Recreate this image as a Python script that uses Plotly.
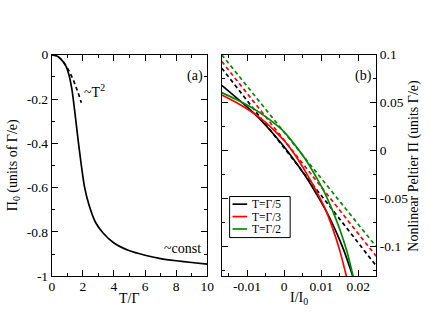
import plotly.graph_objects as go

# ---------------- data: panel (a) ----------------
T_solid = [0, 0.3, 0.6, 0.9, 1.1, 1.3, 1.5, 1.7, 1.9, 2.1, 2.4, 2.8, 3.3, 4.0, 5.0, 6.0, 7.0, 8.0, 9.0, 10.0]
Pi0_solid = [0, -0.005, -0.021, -0.05, -0.09, -0.16, -0.27, -0.39, -0.50, -0.595, -0.68, -0.755,
             -0.805, -0.85, -0.885, -0.905, -0.92, -0.93, -0.938, -0.945]
T_sq = [0, 0.4, 0.8, 1.2, 1.6, 1.9]
Pi0_sq = [0, -0.01, -0.038, -0.086, -0.154, -0.217]

# ---------------- data: panel (b) ----------------
I_black = [-0.0168, -0.014, -0.011, -0.008, -0.005, -0.002, 0.0, 0.002, 0.004, 0.006, 0.008,
           0.010, 0.012, 0.014, 0.016, 0.018, 0.0185]
Pi_black = [0.068, 0.059, 0.049, 0.0385, 0.0265, 0.0135, 0.0040, -0.0062, -0.0168, -0.028, -0.0405,
            -0.0537, -0.068, -0.0845, -0.103, -0.125, -0.131]
I_red = [-0.0168, -0.013, -0.009, -0.005, -0.002, 0.0, 0.003, 0.006, 0.009, 0.011, 0.013, 0.015, 0.0168]
Pi_red = [0.058, 0.0505, 0.041, 0.0295, 0.0185, 0.0105, -0.0048, -0.0235, -0.0445, -0.060, -0.080,
          -0.104, -0.131]
I_green = [-0.0168, -0.013, -0.009, -0.005, -0.002, 0.0, 0.003, 0.006, 0.009, 0.011, 0.013, 0.015,
           0.017, 0.0186]
Pi_green = [0.0605, 0.0535, 0.0455, 0.0355, 0.0265, 0.0195, 0.0055, -0.0105, -0.030, -0.0445, -0.062,
            -0.082, -0.106, -0.131]
I_lin = [-0.0168, 0.0248]
Pi_lin_black = [0.086, -0.12]
Pi_lin_red = [0.093, -0.11]
Pi_lin_green = [0.1, -0.1]

labels = ["T=Γ/5", "T=Γ/3", "T=Γ/2"]
colors = ["black", "#ff0000", "#008c00"]

ax_x_ticks = [0, 2, 4, 6, 8, 10]
ax_y_ticks = [0, -0.2, -0.4, -0.6, -0.8, -1]
ax_y_text = ["0", "-0.2", "-0.4", "-0.6", "-0.8", "-1"]
bx_ticks = [-0.01, 0, 0.01, 0.02]
bx_text = ["-0.01", "0", "0.01", "0.02"]
by_ticks = [0.1, 0.05, 0, -0.05, -0.1]
by_text = ["0.1", "0.05", "0", "-0.05", "-0.1"]

FONT = "Liberation Serif"
FS = 13.5
LW = 1.7
W, H = 430, 332


def px(x):
    return x / W


def py(y):
    return 1 - y / H


fig = go.Figure()
fig.add_trace(go.Scatter(x=T_solid, y=Pi0_solid, mode="lines",
                         line=dict(color="black", width=LW, shape="spline", smoothing=0.6),
                         xaxis="x", yaxis="y", showlegend=False))
fig.add_trace(go.Scatter(x=T_sq, y=Pi0_sq, mode="lines",
                         line=dict(color="black", width=LW, dash="4px,3px", shape="spline"),
                         xaxis="x", yaxis="y", showlegend=False))

lin = [Pi_lin_black, Pi_lin_red, Pi_lin_green]
for c, p in zip(colors, lin):
    fig.add_trace(go.Scatter(x=I_lin, y=p, mode="lines", line=dict(color=c, width=LW, dash="4px,3px"),
                             xaxis="x2", yaxis="y2", showlegend=False))
for lab, c, xs, ys in zip(labels, colors, [I_black, I_red, I_green], [Pi_black, Pi_red, Pi_green]):
    fig.add_trace(go.Scatter(x=xs, y=ys, mode="lines", name=lab, showlegend=False,
                             line=dict(color=c, width=LW, shape="spline", smoothing=0.6),
                             xaxis="x2", yaxis="y2"))

axis_common = dict(showline=True, linecolor="black", linewidth=1, mirror="allticks", ticks="inside",
                   ticklen=6, tickcolor="black", tickwidth=1, showgrid=False, zeroline=False,
                   tickfont=dict(family=FONT, size=FS, color="black"))
ydom = [(H - 282) / H, (H - 50) / H]
tfont = dict(family=FONT, size=14, color="black")

# custom legend box (styling only)
leg_x0, leg_x1, leg_y0, leg_y1 = 232, 294, 198.5, 241.5
row_y = [206.5, 219.5, 232.5]
shapes = [dict(type="rect", xref="paper", yref="paper", x0=px(leg_x0), x1=px(leg_x1),
               y0=py(leg_y1), y1=py(leg_y0), line=dict(color="black", width=1), fillcolor="white", layer="above")]
annotations = []
for lab, c, ry in zip(labels, colors, row_y):
    shapes.append(dict(type="line", xref="paper", yref="paper", x0=px(235), x1=px(250), y0=py(ry), y1=py(ry),
                       line=dict(color=c, width=LW), layer="above"))
    annotations.append(dict(x=px(253), y=py(ry), xref="paper", yref="paper", text=lab, showarrow=False,
                            xanchor="left", yanchor="middle", font=dict(family=FONT, size=11.5, color="black")))

annotations += [
    dict(x=9.2, y=-0.095, xref="x", yref="y", text="(a)", showarrow=False, font=tfont),
    dict(x=2.75, y=-0.165, xref="x", yref="y", text="~T<sup>2</sup>", showarrow=False, font=tfont),
    dict(x=8.4, y=-0.875, xref="x", yref="y", text="~const", showarrow=False, font=tfont),
    dict(x=0.0214, y=0.078, xref="x2", yref="y2", text="(b)", showarrow=False, font=tfont),
    dict(x=px(11), y=py(166), xref="paper", yref="paper", text="Π<sub>0</sub> (units of Γ/e)",
         showarrow=False, textangle=-90, xanchor="center", yanchor="middle", font=tfont),
    dict(x=px(420), y=py(166), xref="paper", yref="paper", text="Nonlinear Peltier Π (units Γ/e)",
         showarrow=False, textangle=-90, xanchor="center", yanchor="middle", font=tfont),
    dict(x=px(129.5), y=py(305), xref="paper", yref="paper", text="T/Γ",
         showarrow=False, xanchor="center", yanchor="middle", font=tfont),
    dict(x=px(303), y=py(305), xref="paper", yref="paper", text="I/I<sub>0</sub>",
         showarrow=False, xanchor="center", yanchor="middle", font=tfont),
]

fig.update_layout(
    width=W, height=H, margin=dict(l=0, r=0, t=0, b=0),
    paper_bgcolor="white", plot_bgcolor="white",
    font=dict(family=FONT, size=FS, color="black"),
    showlegend=False,
    xaxis=dict(axis_common, domain=[50 / W, 209 / W], range=[0, 10], tickvals=ax_x_ticks,
               ticklabelstandoff=-2,
               minor=dict(ticks="inside", ticklen=3, dtick=1, tickcolor="black"), anchor="y"),
    yaxis=dict(axis_common, domain=ydom, range=[-1, 0], tickvals=ax_y_ticks, ticktext=ax_y_text,
               minor=dict(ticks="inside", ticklen=3, dtick=0.1, tickcolor="black"), anchor="x"),
    xaxis2=dict(axis_common, domain=[224 / W, 382 / W], range=[-0.0168, 0.0248], tickvals=bx_ticks,
                ticktext=bx_text, ticklabelstandoff=-2,
                minor=dict(ticks="inside", ticklen=3, dtick=0.005, tickcolor="black"),
                anchor="y2"),
    yaxis2=dict(axis_common, domain=ydom, range=[-0.131, 0.1], tickvals=by_ticks, ticktext=by_text,
                side="right", minor=dict(ticks="inside", ticklen=3, dtick=0.025, tickcolor="black"),
                anchor="x2"),
    shapes=shapes,
    annotations=annotations,
)

fig.write_html("out.html", config={"displayModeBar": False},
               post_script="document.body.style.margin='0px';")
